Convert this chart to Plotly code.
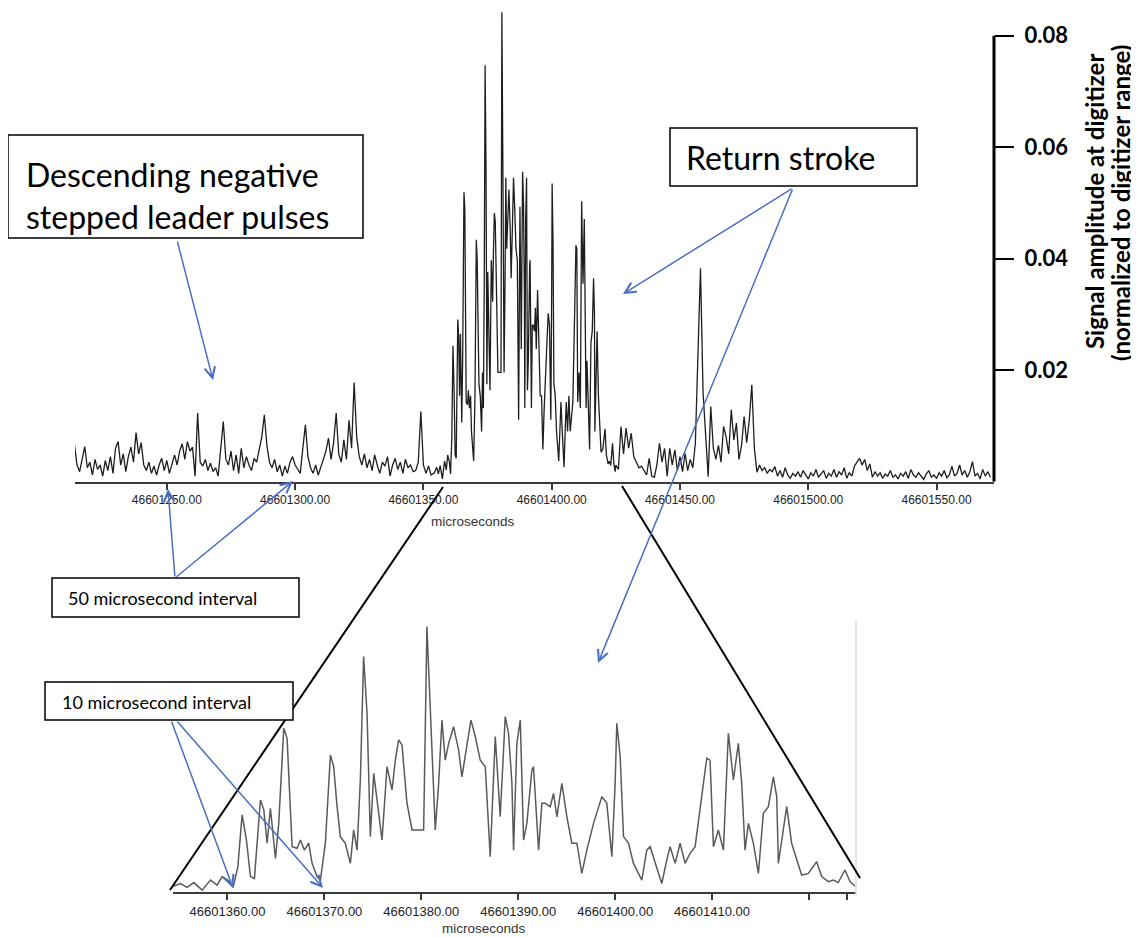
import numpy as np
import plotly.graph_objects as go

W, H = 1139, 937
OFF = 8                      # the page body has an 8 px margin
FW, FH = W - OFF, H - OFF    # figure size so it ends at the window edge
T0 = 46601000.0

# ---------------- data ----------------
# quiet part before the return stroke, 1 microsecond steps starting at 46601214
pre_values = [
    0.0066, 0.0030, 0.0018, 0.0042, 0.0063, 0.0025, 0.0035, 0.0012, 0.0040, 0.0022,
    0.0030, 0.0010, 0.0038, 0.0020, 0.0045, 0.0015, 0.0060, 0.0072, 0.0030, 0.0050,
    0.0018, 0.0045, 0.0062, 0.0035, 0.0088, 0.0050, 0.0070, 0.0030, 0.0020, 0.0035,
    0.0015, 0.0028, 0.0012, 0.0030, 0.0042, 0.0020, 0.0038, 0.0015, 0.0033, 0.0048,
    0.0030, 0.0055, 0.0068, 0.0040, 0.0072, 0.0055, 0.0062, 0.0010, 0.0123, 0.0035,
    0.0028, 0.0040, 0.0020, 0.0033, 0.0018, 0.0025, 0.0010, 0.0060, 0.0108, 0.0040,
    0.0030, 0.0055, 0.0020, 0.0048, 0.0015, 0.0060, 0.0025, 0.0045, 0.0030, 0.0020,
    0.0042, 0.0035, 0.0055, 0.0080, 0.0120, 0.0065, 0.0035, 0.0025, 0.0040, 0.0018,
    0.0030, 0.0010, 0.0028, 0.0015, 0.0035, 0.0045, 0.0030, 0.0022, 0.0015, 0.0060,
    0.0102, 0.0045, 0.0025, 0.0015, 0.0030, 0.0012, 0.0028, 0.0040, 0.0055, 0.0078,
    0.0040, 0.0070, 0.0123, 0.0050, 0.0035, 0.0075, 0.0040, 0.0110, 0.0060, 0.0178,
    0.0080, 0.0045, 0.0030, 0.0050, 0.0025, 0.0040, 0.0020, 0.0048, 0.0030, 0.0015,
    0.0035, 0.0028, 0.0045, 0.0010, 0.0030, 0.0042, 0.0022, 0.0035, 0.0015, 0.0040,
    0.0025, 0.0030, 0.0018, 0.0020, 0.0035, 0.0126, 0.0030, 0.0015, 0.0028, 0.0012,
]
pre_start_us = 214

# return-stroke burst (time offsets from 46601000 microseconds, amplitude)
burst_time_us = [
    354.30, 355.15, 355.84, 356.53, 357.39, 358.25, 358.93, 359.45, 360.14, 360.58,
    361.07, 361.51, 361.96, 362.37, 362.78, 363.40, 363.75, 364.09, 364.43, 364.95,
    365.29, 365.81, 366.15, 366.67, 367.18, 367.53, 367.94, 368.38, 368.73, 369.24,
    369.59, 370.10, 370.62, 370.96, 371.31, 371.65, 372.16, 372.68, 373.02, 373.37,
    373.71, 374.05, 374.40, 374.74, 375.09, 375.60, 375.95, 376.46, 376.98, 377.32,
    377.66, 378.01, 378.52, 379.04, 380.24, 380.58, 380.93, 381.44, 381.79, 382.13,
    382.47, 382.82, 383.33, 383.85, 384.19, 384.71, 385.12, 385.57, 386.08, 386.60,
    387.11, 387.63, 388.14, 388.66, 389.00, 389.35, 389.52, 389.86, 390.21, 390.55,
    390.89, 391.41, 391.58, 392.10, 392.44, 392.78, 393.30, 393.64, 393.99, 394.50,
    395.02, 395.53, 396.05, 396.56, 397.08, 397.77, 398.63, 399.14, 399.66, 400.00,
    400.17, 400.52, 400.86, 401.38, 401.89, 402.75, 403.26, 403.61, 404.12, 404.81,
    405.33, 405.67, 406.19, 406.70, 407.22, 407.73, 408.25, 408.94, 409.45, 409.79,
    410.14, 410.65, 411.17, 411.68, 412.20, 412.71, 413.06, 413.40, 413.75, 414.26,
    414.78, 415.29, 415.81, 416.32, 416.67, 416.84, 417.18, 417.70, 418.21, 418.56,
    419.24, 419.93, 420.79, 421.31, 421.99, 422.51, 423.02, 423.71, 424.23, 424.74,
]
burst_values = [
    0.0016, 0.0026, 0.0014, 0.0029, 0.0005, 0.0037, 0.0021, 0.0048, 0.0035, 0.0014,
    0.0079, 0.0244, 0.0164, 0.0048, 0.0042, 0.0291, 0.0260, 0.0154, 0.0265, 0.0106,
    0.0217, 0.0519, 0.0487, 0.0143, 0.0138, 0.0164, 0.0132, 0.0154, 0.0090, 0.0048,
    0.0037, 0.0154, 0.0434, 0.0397, 0.0270, 0.0175, 0.0154, 0.0090, 0.0196, 0.0132,
    0.0355, 0.0747, 0.0567, 0.0175, 0.0376, 0.0260, 0.0164, 0.0397, 0.0323, 0.0418,
    0.0482, 0.0466, 0.0281, 0.0196, 0.0196, 0.0842, 0.0598, 0.0196, 0.0344, 0.0545,
    0.0418, 0.0471, 0.0524, 0.0450, 0.0365, 0.0461, 0.0545, 0.0493, 0.0418, 0.0397,
    0.0111, 0.0493, 0.0238, 0.0556, 0.0503, 0.0344, 0.0132, 0.0471, 0.0545, 0.0164,
    0.0217, 0.0387, 0.0397, 0.0132, 0.0281, 0.0281, 0.0270, 0.0312, 0.0238, 0.0344,
    0.0238, 0.0154, 0.0154, 0.0058, 0.0132, 0.0217, 0.0302, 0.0281, 0.0111, 0.0344,
    0.0535, 0.0429, 0.0175, 0.0154, 0.0090, 0.0037, 0.0132, 0.0143, 0.0090, 0.0026,
    0.0101, 0.0143, 0.0090, 0.0154, 0.0090, 0.0122, 0.0143, 0.0302, 0.0424, 0.0418,
    0.0143, 0.0196, 0.0132, 0.0503, 0.0355, 0.0471, 0.0344, 0.0132, 0.0217, 0.0154,
    0.0058, 0.0249, 0.0270, 0.0365, 0.0302, 0.0090, 0.0164, 0.0270, 0.0154, 0.0122,
    0.0053, 0.0058, 0.0095, 0.0048, 0.0032, 0.0037, 0.0029, 0.0069, 0.0032, 0.0018,
]

# after the return stroke, 1 microsecond steps starting at 46601425
post_values = [
    0.0030, 0.0022, 0.0099, 0.0050, 0.0096, 0.0060, 0.0087, 0.0045, 0.0035, 0.0025,
    0.0028, 0.0020, 0.0012, 0.0042, 0.0010, 0.0008, 0.0030, 0.0069, 0.0035, 0.0060,
    0.0010, 0.0060, 0.0030, 0.0057, 0.0020, 0.0045, 0.0018, 0.0051, 0.0020, 0.0040,
    0.0025, 0.0069, 0.0218, 0.0383, 0.0160, 0.0075, 0.0009, 0.0135, 0.0060, 0.0040,
    0.0065, 0.0035, 0.0099, 0.0080, 0.0050, 0.0129, 0.0075, 0.0105, 0.0040, 0.0065,
    0.0117, 0.0070, 0.0110, 0.0174, 0.0060, 0.0017, 0.0030, 0.0020, 0.0025, 0.0015,
    0.0022, 0.0018, 0.0027, 0.0010, 0.0020, 0.0008, 0.0025, 0.0012, 0.0006, 0.0015,
    0.0010, 0.0018, 0.0008, 0.0020, 0.0012, 0.0005, 0.0016, 0.0010, 0.0022, 0.0008,
    0.0014, 0.0020, 0.0006, 0.0015, 0.0010, 0.0022, 0.0008, 0.0018, 0.0012, 0.0025,
    0.0006, 0.0016, 0.0010, 0.0028, 0.0035, 0.0042, 0.0030, 0.0040, 0.0020, 0.0032,
    0.0008, 0.0018, 0.0010, 0.0016, 0.0006, 0.0014, 0.0010, 0.0020, 0.0008, 0.0012,
    0.0005, 0.0015, 0.0010, 0.0018, 0.0006, 0.0022, 0.0012, 0.0008, 0.0016, 0.0010,
    0.0004, 0.0014, 0.0020, 0.0008, 0.0012, 0.0006, 0.0016, 0.0010, 0.0020, 0.0007,
    0.0012, 0.0028, 0.0010, 0.0015, 0.0030, 0.0012, 0.0020, 0.0008, 0.0018, 0.0036,
    0.0010, 0.0015, 0.0005, 0.0022, 0.0010, 0.0018, 0.0008,
]
post_start_us = 425

top_ticks = [46601250, 46601300, 46601350, 46601400, 46601450, 46601500, 46601550]
bottom_ticks = [46601360, 46601370, 46601380, 46601390, 46601400, 46601410, 46601420, 46601423.9]
bottom_tick_labels = ["46601360.00", "46601370.00", "46601380.00", "46601390.00",
                      "46601400.00", "46601410.00", "", ""]
amp_ticks = [0.02, 0.04, 0.06, 0.08]
amp_tick_labels = ["0.02", "0.04", "0.06", "0.08"]

# ---------------- build series ----------------
pre_t = T0 + pre_start_us + np.arange(len(pre_values))
burst_t = T0 + np.array(burst_time_us)
post_t = T0 + post_start_us + np.arange(len(post_values))
all_t = np.concatenate([pre_t, burst_t, post_t])
all_v = np.concatenate([pre_values, burst_values, post_values])


def px(x):
    return (x - OFF) / FW


def py(y):
    return 1 - (y - OFF) / FH


fig = go.Figure()
fig.add_trace(go.Scatter(x=all_t, y=all_v, mode="lines", xaxis="x", yaxis="y",
                         line=dict(color="#1e1e1e", width=1.3), showlegend=False,
                         hoverinfo="skip"))
fig.add_trace(go.Scatter(x=burst_t, y=burst_values, mode="lines", xaxis="x2", yaxis="y2",
                         line=dict(color="#5a5a5a", width=1.5), showlegend=False,
                         hoverinfo="skip"))

fam_small = "Liberation Sans, Arial, sans-serif"

fig.update_layout(
    width=FW, height=FH, margin=dict(l=0, r=0, t=0, b=0),
    paper_bgcolor="white", plot_bgcolor="white",
    xaxis=dict(domain=[px(75), px(994)], range=[46601214.2, 46601572.4],
               showgrid=False, zeroline=False, showline=True, linecolor="#3a3a3a",
               linewidth=2, ticks="outside", ticklen=6, tickwidth=1.5, tickcolor="#3a3a3a",
               tickmode="array", tickvals=top_ticks, tickformat=".2f",
               tickfont=dict(family=fam_small, size=12, color="#222"), anchor="y"),
    yaxis=dict(domain=[py(481.7), 1.0], range=[0, (481.7 - OFF) / 5575.0], side="right",
               anchor="x", showgrid=False, zeroline=False, showline=False,
               ticks="outside", ticklen=19, tickwidth=2, tickcolor="black",
               ticklabelstandoff=6,
               tickmode="array", tickvals=amp_ticks, ticktext=amp_tick_labels,
               tickfont=dict(family="Lato, sans-serif", size=22, color="black", weight="bold")),
    xaxis2=dict(domain=[px(173), px(856)], range=[46601354.38, 46601424.85],
                showgrid=False, zeroline=False, showline=True, linecolor="#3a3a3a",
                linewidth=1.5, ticks="outside", ticklen=7, tickwidth=1.5, tickcolor="#3a3a3a",
                tickmode="array", tickvals=bottom_ticks, ticktext=bottom_tick_labels,
                tickfont=dict(family=fam_small, size=13, color="#222"), anchor="y2"),
    yaxis2=dict(domain=[py(891.7), py(620)], range=[0, 0.0863], visible=False, anchor="x2"),
)

shapes = []
# right amplitude axis line (only up to 0.08)
shapes.append(dict(type="line", xref="x domain", yref="y", x0=1, x1=1, y0=0, y1=0.08,
                   line=dict(color="black", width=3)))
# light border at right of zoomed plot
shapes.append(dict(type="line", xref="x2 domain", yref="y2 domain", x0=1, x1=1, y0=-0.01, y1=1,
                   line=dict(color="#dcdcdc", width=1.5)))
# zoom triangle lines
shapes.append(dict(type="line", xref="paper", yref="paper", x0=px(443), y0=py(487),
                   x1=px(170), y1=py(890), line=dict(color="black", width=2)))
shapes.append(dict(type="line", xref="paper", yref="paper", x0=px(622), y0=py(486),
                   x1=px(860), y1=py(878), line=dict(color="black", width=2)))
# text boxes
boxes = [(8, 135, 363, 238), (670, 128, 917, 186), (52, 578, 299, 617), (45, 682, 293, 720)]
for (x0, y0, x1, y1) in boxes:
    shapes.append(dict(type="rect", xref="paper", yref="paper", x0=px(x0), x1=px(x1),
                       y0=py(y1), y1=py(y0), fillcolor="white",
                       line=dict(color="black", width=1.5)))
fig.update_layout(shapes=shapes)

ann = []
big = dict(family="Lato, sans-serif", size=32, color="black")
mid = dict(family="Lato, sans-serif", size=18, color="black")
ann.append(dict(text="Descending negative<br>stepped leader pulses", xref="paper", yref="paper",
                x=px(24), y=py(195), xanchor="left", yanchor="middle", align="left",
                showarrow=False, font=big))
ann.append(dict(text="Return stroke", xref="paper", yref="paper", x=px(684), y=py(157),
                xanchor="left", yanchor="middle", showarrow=False, font=big))
ann.append(dict(text="50 microsecond interval", xref="paper", yref="paper", x=px(66), y=py(598),
                xanchor="left", yanchor="middle", showarrow=False, font=mid))
ann.append(dict(text="10 microsecond interval", xref="paper", yref="paper", x=px(60), y=py(702),
                xanchor="left", yanchor="middle", showarrow=False, font=mid))
title_font = dict(family="Lato, sans-serif", size=24, color="black", weight="bold")
ann.append(dict(text="Signal amplitude at digitizer", xref="paper", yref="paper",
                x=px(1094), y=py(202), xanchor="center", yanchor="middle", textangle=-90,
                showarrow=False, font=title_font))
ann.append(dict(text="(normalized to digitizer range)", xref="paper", yref="paper",
                x=px(1120), y=py(203), xanchor="center", yanchor="middle", textangle=-90,
                showarrow=False, font=title_font))
ann.append(dict(text="microseconds", xref="paper", yref="paper", x=px(473), y=py(521),
                xanchor="center", yanchor="middle", showarrow=False,
                font=dict(family=fam_small, size=13.5, color="#333")))
ann.append(dict(text="microseconds", xref="paper", yref="paper", x=px(484), y=py(928),
                xanchor="center", yanchor="middle", showarrow=False,
                font=dict(family=fam_small, size=13.5, color="#333")))

blue = "#4a6ec4"
arrows = [
    ((213, 380), (177, 240)),
    ((623, 294), (793, 188)),
    ((598, 663), (793, 188)),
    ((168, 489), (175, 578)),
    ((293, 481), (175, 578)),
    ((233, 888), (171, 720)),
    ((323, 888), (176, 720)),
]
for (hx, hy), (tx, ty) in arrows:
    ann.append(dict(text="", xref="paper", yref="paper", x=px(hx), y=py(hy),
                    ax=tx - hx, ay=ty - hy, showarrow=True, arrowhead=5, arrowsize=1.4,
                    arrowwidth=1.5, arrowcolor=blue, standoff=0, startstandoff=0))
fig.update_layout(annotations=ann)

fig.write_html("out.html")
